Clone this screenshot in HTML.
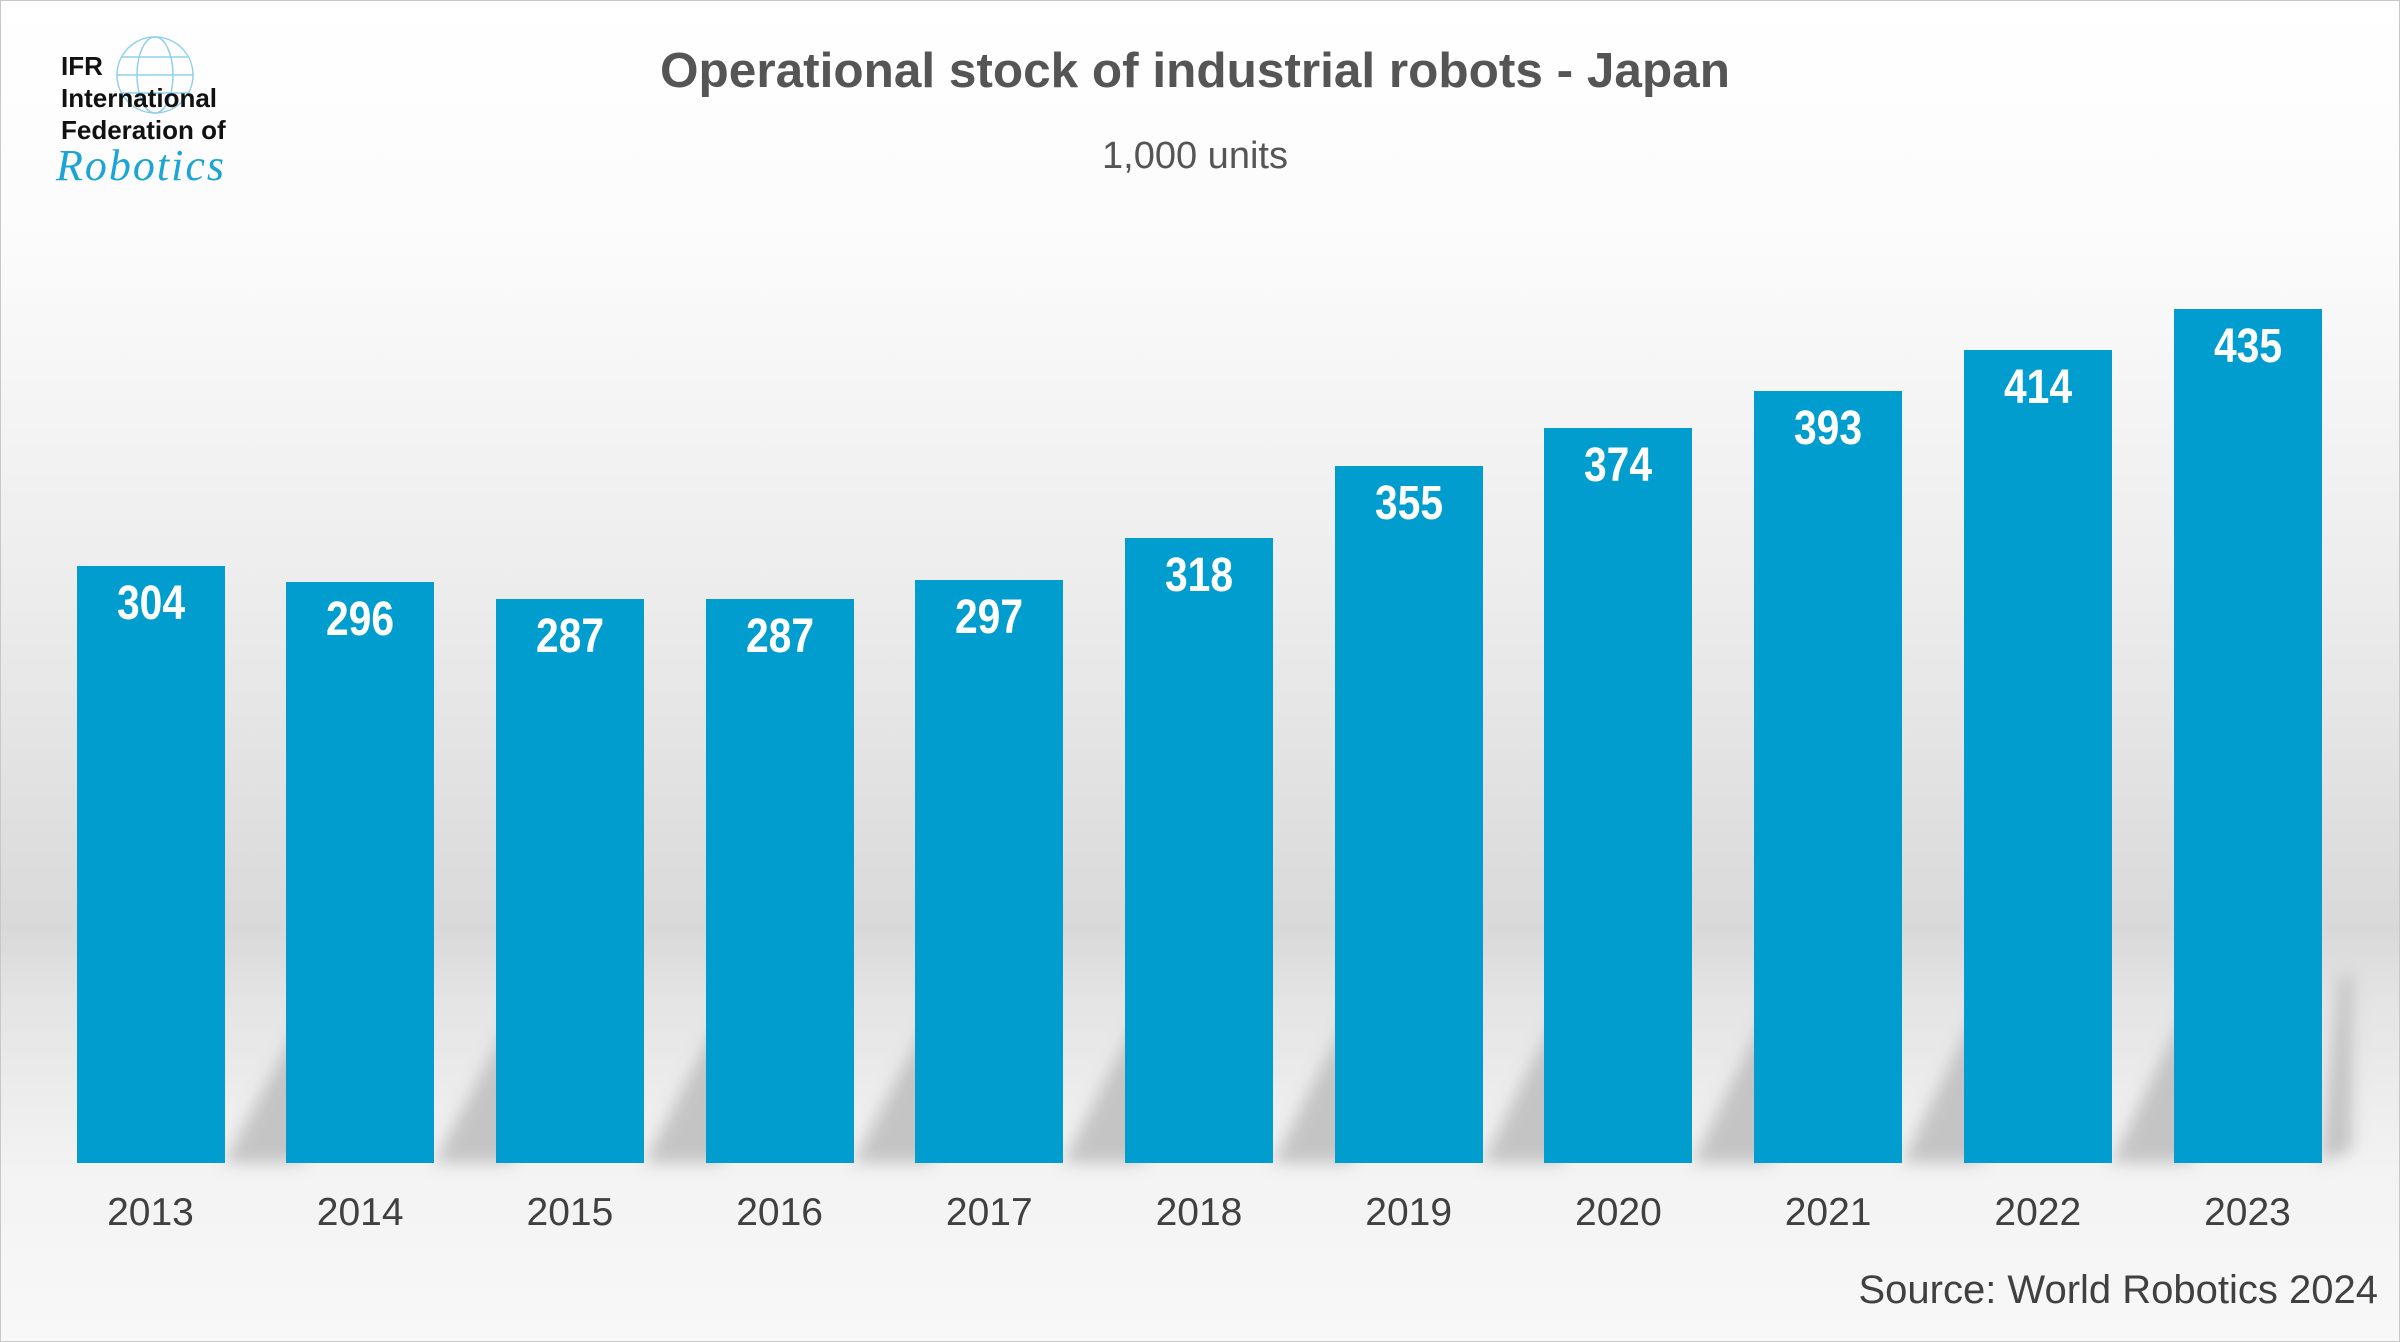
<!DOCTYPE html>
<html><head><style>
html,body{margin:0;padding:0}
body{width:2400px;height:1342px;overflow:hidden;position:relative;font-family:"Liberation Sans",Arial,sans-serif;
background:linear-gradient(to bottom,#ffffff 0px,#fbfbfb 250px,#ececec 600px,#d9d9d9 930px,#e4e4e4 1000px,#f3f3f3 1170px,#f8f8f8 1342px);}
.frame{position:absolute;left:0;top:0;width:2398px;height:1340px;border:1px solid #c8c8c8}
.bar{position:absolute;background:#009dce;width:148px}
.val{position:absolute;width:148px;text-align:center;color:#fff;font-weight:bold;font-size:48px;line-height:48px;transform:scaleX(0.85)}
.yr{position:absolute;width:210px;text-align:center;color:#404040;font-size:39px;line-height:39px;top:1193px}
</style></head><body>
<div class="frame"></div>
<svg width="2400" height="1342" style="position:absolute;left:0;top:0">
<defs><filter id="b"><feGaussianBlur stdDeviation="8"/></filter></defs>
<g fill="#bdbdbd" filter="url(#b)" opacity="0.85">
<polygon points="224,1163 320,985 400,985 300,1163"/>
<polygon points="434,1163 530,982 610,982 510,1163"/>
<polygon points="644,1163 740,980 820,980 720,1163"/>
<polygon points="853,1163 950,978 1030,978 930,1163"/>
<polygon points="1063,1163 1160,975 1240,975 1140,1163"/>
<polygon points="1273,1163 1370,972 1450,972 1350,1163"/>
<polygon points="1482,1163 1580,968 1660,968 1560,1163"/>
<polygon points="1692,1163 1790,965 1870,965 1770,1163"/>
<polygon points="1902,1163 2000,962 2080,962 1980,1163"/>
<polygon points="2111,1163 2210,960 2290,960 2190,1163"/>
<polygon points="2320,1163 2340,975 2352,975 2352,1150 2320,1163"/>
</g>
<g stroke="#8fd0ec" stroke-width="1.5" fill="none">
<circle cx="155" cy="75" r="38"/>
<ellipse cx="155" cy="75" rx="18" ry="38"/>
<line x1="117" y1="75" x2="193" y2="75"/>
<line x1="122" y1="57" x2="188" y2="57"/>
<line x1="122" y1="93" x2="188" y2="93"/>
</g>
</svg>
<div style="position:absolute;left:61px;top:50px;font-weight:bold;font-size:26px;line-height:32px;color:#111">IFR<br>International<br>Federation of</div>
<div style="position:absolute;left:56px;top:140px;font-style:italic;font-family:'Liberation Serif',serif;font-size:44px;color:#1aa5d6;letter-spacing:2px">Robotics</div>
<div style="position:absolute;left:0;width:2390px;top:42px;text-align:center;font-weight:bold;font-size:49.5px;color:#555">Operational stock of industrial robots - Japan</div>
<div style="position:absolute;left:0;width:2390px;top:135px;text-align:center;font-size:38px;color:#555">1,000 units</div>
<div style="position:absolute;right:22px;top:1268px;font-size:40px;color:#404040">Source: World Robotics 2024</div>
<div id="c"></div>
<script>
var v=[304,296,287,287,297,318,355,374,393,414,435];
var h='';
for(var i=0;i<v.length;i++){var x=76.5+i*209.7;var t=1163-v[i]*1.964;
h+='<div class="bar" style="left:'+x+'px;top:'+t+'px;height:'+(1163-t)+'px"></div>';
h+='<div class="val" style="left:'+x+'px;top:'+(t+14)+'px">'+v[i]+'</div>';
h+='<div class="yr" style="left:'+(x-31)+'px">'+(2013+i)+'</div>';}
document.getElementById('c').innerHTML=h;
</script>
</body></html>
